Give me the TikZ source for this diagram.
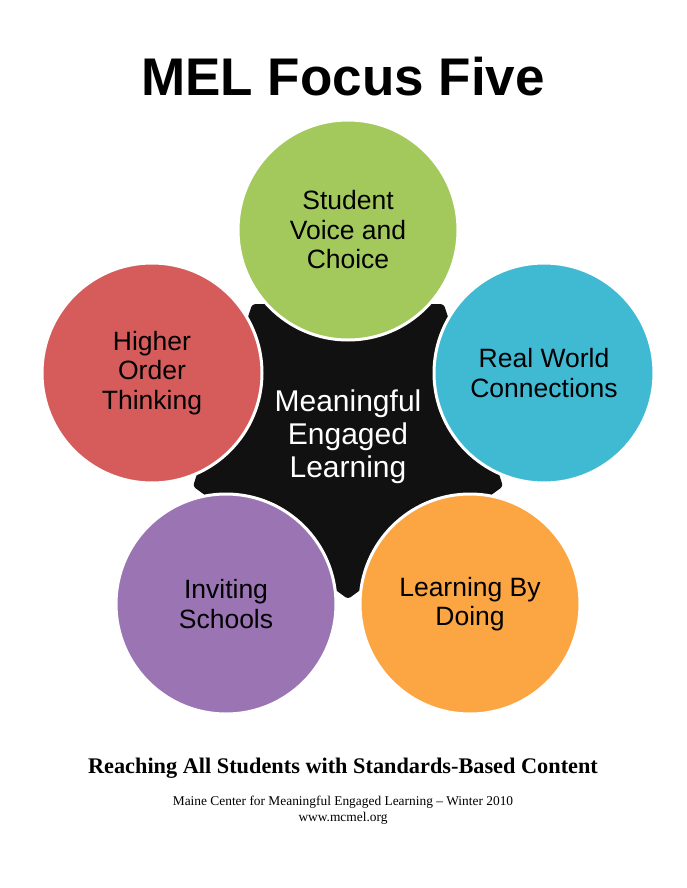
\documentclass[tikz,border=0pt]{standalone}
\usepackage{fontspec}
\setmainfont{Liberation Sans}
\newfontfamily\timesfont[Ligatures=TeX]{Liberation Serif}
\definecolor{cgreen}{RGB}{163,201,92}
\definecolor{cred}{RGB}{214,92,92}
\definecolor{ccyan}{RGB}{64,186,211}
\definecolor{cpurple}{RGB}{155,116,180}
\definecolor{corange}{RGB}{251,165,67}
\definecolor{cblack}{RGB}{17,17,17}
\begin{document}
\begin{tikzpicture}[x=1pt,y=-1pt,
  bub/.style={circle, draw=white, line width=3pt, minimum size=220pt, inner sep=0pt,
    align=center, text=black, font=\fontsize{26.5}{29.5}\selectfont}]
\useasboundingbox (0,0) rectangle (686,888);
\fill[white] (0,0) rectangle (686,888);
\node (title) at (343,77) {\fontsize{53}{60}\selectfont\bfseries MEL Focus Five};
\fill[cblack, rounded corners=3pt] (252.2,304.1) -- (443.8,304.1) -- (503.0,486.4) -- (348,599) -- (193.0,486.4) -- cycle;
\node[text=white, align=center, font=\fontsize{30}{33}\selectfont] (core) at (348,437) {Meaningful\\Engaged\\Learning};
\node[bub, fill=cgreen] (voice) at (348,230) {Student\\Voice and\\Choice};
\node[bub, fill=cred] (think) at (152,373) {Higher\\Order\\Thinking};
\node[bub, fill=ccyan] (real) at (544,373) {Real World\\Connections};
\node[bub, fill=cpurple] (invite) at (226,604) {Inviting\\Schools};
\node[bub, fill=corange] (doing) at (470,604) {Learning By\\Doing};
\node (sub) at (343,768) {\timesfont\bfseries\fontsize{22.3}{26}\selectfont Reaching All Students with Standards-Based Content};
\node[align=center, font=\timesfont\fontsize{13.4}{16}\selectfont] (foot) at (343,810) {Maine Center for Meaningful Engaged Learning -- Winter 2010\\www.mcmel.org};
\end{tikzpicture}
\end{document}
